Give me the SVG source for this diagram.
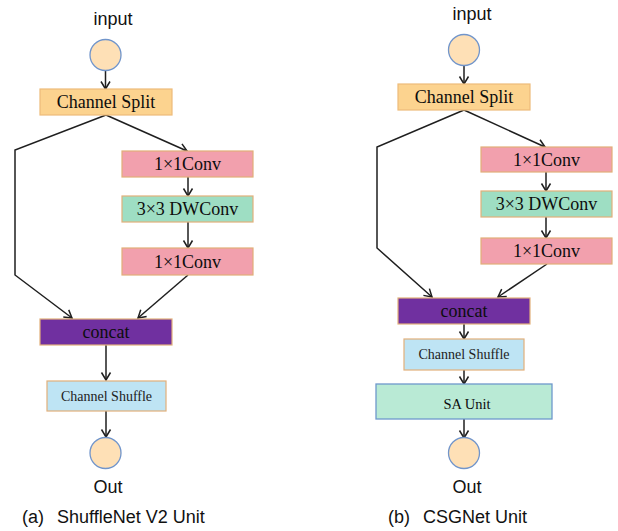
<svg xmlns="http://www.w3.org/2000/svg" width="618" height="531" viewBox="0 0 618 531">
  <style>
    .bg { fill: #ffffff; }
    .port { fill: #FEE0B6; stroke: #7195CB; stroke-width: 1.3; }
    .split { fill: #FCD38F; stroke: #EDBB7A; stroke-width: 1.2; }
    .conv1 { fill: #F2A0AD; stroke: #E2AE78; stroke-width: 1.2; }
    .dw { fill: #9EDEC3; stroke: #E2B07A; stroke-width: 1.2; }
    .concat { fill: #7030A0; stroke: #E2B07A; stroke-width: 1.2; }
    .shuffle { fill: #BEE4F4; stroke: #E2B07A; stroke-width: 1.2; }
    .sa { fill: #B9EAD5; stroke: #6E98CC; stroke-width: 1.3; }
    .lbl { font-family: "Liberation Serif", "Times New Roman", serif; font-size: 18px; fill: #0d0d0d; text-anchor: middle; }
    .small { font-size: 14px; fill: #222; }
    .sans { font-family: "Liberation Sans", Arial, sans-serif; font-size: 18px; fill: #111; }
    .mid { text-anchor: middle; }
    .edge { fill: none; stroke: #1f1f1f; stroke-width: 1.5; marker-end: url(#arrow); }
  </style>
  <defs>
    <marker id="arrow" markerUnits="userSpaceOnUse" markerWidth="12" markerHeight="12" viewBox="0 0 12 12" refX="10" refY="6" orient="auto">
      <path d="M2.5,1.5 L10,6 L2.5,10.5" fill="none" stroke="#1f1f1f" stroke-width="1.5"/>
    </marker>
  </defs>

  <rect class="bg" x="0" y="0" width="618" height="531"/>

  <!-- connectors -->
  <g id="connectors">
    <!-- (a) ShuffleNet V2 -->
    <line class="edge" x1="105.5" y1="71" x2="105.5" y2="89"/>
    <polyline class="edge" points="106,115 15,150 15,275 72,318"/>
    <line class="edge" x1="106" y1="115" x2="187" y2="151"/>
    <line class="edge" x1="188" y1="177" x2="188" y2="196"/>
    <line class="edge" x1="188" y1="222" x2="188" y2="248"/>
    <line class="edge" x1="188" y1="275" x2="138" y2="318"/>
    <line class="edge" x1="106" y1="345" x2="106" y2="380"/>
    <line class="edge" x1="106" y1="411" x2="106" y2="437"/>
    <!-- (b) CSGNet -->
    <line class="edge" x1="464" y1="66" x2="464" y2="84"/>
    <polyline class="edge" points="464,110 377,147 377,248 432,297"/>
    <line class="edge" x1="464" y1="110" x2="545" y2="147"/>
    <line class="edge" x1="546" y1="172" x2="546" y2="191"/>
    <line class="edge" x1="546" y1="217" x2="546" y2="238"/>
    <line class="edge" x1="547" y1="264" x2="498" y2="297"/>
    <line class="edge" x1="464" y1="324" x2="464" y2="339"/>
    <line class="edge" x1="464" y1="370" x2="464" y2="384"/>
    <line class="edge" x1="464" y1="419" x2="464" y2="438"/>
  </g>

  <!-- (a) ShuffleNet V2 Unit -->
  <g id="a-input">
    <text class="sans mid" x="113" y="25">input</text>
    <circle class="port" cx="105.5" cy="55" r="15.5"/>
  </g>
  <g id="a-split">
    <rect class="split" x="40" y="89" width="132" height="26"/>
    <text class="lbl" x="106" y="108">Channel Split</text>
  </g>
  <g id="a-conv1">
    <rect class="conv1" x="122" y="151" width="131" height="26"/>
    <text class="lbl" x="187.5" y="170">1×1Conv</text>
  </g>
  <g id="a-dwconv">
    <rect class="dw" x="122" y="196" width="131" height="26"/>
    <text class="lbl" x="187.5" y="215">3×3 DWConv</text>
  </g>
  <g id="a-conv2">
    <rect class="conv1" x="122" y="248" width="131" height="27"/>
    <text class="lbl" x="187.5" y="268">1×1Conv</text>
  </g>
  <g id="a-concat">
    <rect class="concat" x="40" y="319" width="132" height="26"/>
    <text class="lbl" x="106" y="338">concat</text>
  </g>
  <g id="a-shuffle">
    <rect class="shuffle" x="47" y="381" width="119" height="30"/>
    <text class="lbl small" x="106.5" y="401">Channel Shuffle</text>
  </g>
  <g id="a-out">
    <circle class="port" cx="105.5" cy="453" r="15.5"/>
    <text class="sans mid" x="108" y="493">Out</text>
  </g>
  <text class="sans" x="22" y="523">(a)<tspan dx="13">ShuffleNet V2 Unit</tspan></text>

  <!-- (b) CSGNet Unit -->
  <g id="b-input">
    <text class="sans mid" x="472" y="20">input</text>
    <circle class="port" cx="464" cy="50" r="15.5"/>
  </g>
  <g id="b-split">
    <rect class="split" x="398" y="84" width="132" height="26"/>
    <text class="lbl" x="464" y="103">Channel Split</text>
  </g>
  <g id="b-conv1">
    <rect class="conv1" x="481" y="147" width="131" height="25"/>
    <text class="lbl" x="546.5" y="166">1×1Conv</text>
  </g>
  <g id="b-dwconv">
    <rect class="dw" x="481" y="191" width="131" height="26"/>
    <text class="lbl" x="546.5" y="210">3×3 DWConv</text>
  </g>
  <g id="b-conv2">
    <rect class="conv1" x="481" y="238" width="131" height="26"/>
    <text class="lbl" x="546.5" y="257">1×1Conv</text>
  </g>
  <g id="b-concat">
    <rect class="concat" x="398" y="298" width="132" height="26"/>
    <text class="lbl" x="464" y="317">concat</text>
  </g>
  <g id="b-shuffle">
    <rect class="shuffle" x="404" y="339" width="120" height="31"/>
    <text class="lbl small" x="464" y="359">Channel Shuffle</text>
  </g>
  <g id="b-sa">
    <rect class="sa" x="376" y="384" width="176" height="35"/>
    <text class="lbl" style="font-size:14.5px" x="467" y="409">SA Unit</text>
  </g>
  <g id="b-out">
    <circle class="port" cx="464" cy="453" r="15.5"/>
    <text class="sans mid" x="467" y="493">Out</text>
  </g>
  <text class="sans" x="388" y="523">(b)<tspan dx="13">CSGNet Unit</tspan></text>
</svg>
